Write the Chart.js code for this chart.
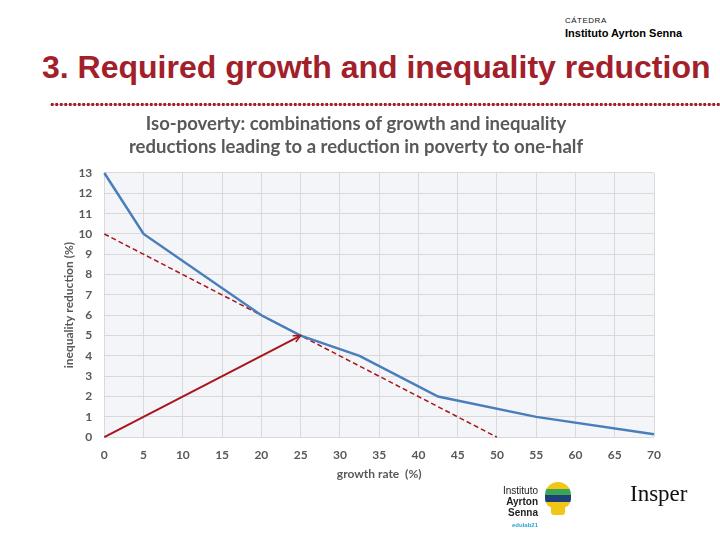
<!DOCTYPE html>
<html>
<head>
<meta charset="utf-8">
<script src="https://cdn.jsdelivr.net/npm/chart.js@4"></script>
<style>
  body { margin: 0; width: 720px; height: 540px; background: #fff; position: relative; overflow: hidden; font-family: "Liberation Sans", Arial, sans-serif; }
  .catedra { position: absolute; left: 565px; top: 16px; font-size: 8px; letter-spacing: 0.5px; color: #111; }
  .ias { position: absolute; left: 565px; top: 27px; font-size: 11px; font-weight: bold; color: #000; }
  .headline { position: absolute; left: 42px; top: 49px; font-size: 32px; font-weight: bold; color: #a2202a; white-space: nowrap; }
  .dots { position: absolute; left: 50px; top: 102px; width: 672px; height: 5px;
          background-image: radial-gradient(circle, #a2202a 1.5px, transparent 2px); background-size: 4.5px 5px; }
  #wrap { position: absolute; left: 40px; top: 106px; width: 640px; height: 382px; }
  .logo1 { position: absolute; left: 503px; top: 485px; font-size: 10px; line-height: 11px; text-align: right; color: #222; }
  .logo1 b { font-weight: bold; }
  .logo1 .edu { color: #2aa3d8; font-size: 6px; font-weight: bold; }
  .bulb { position: absolute; left: 545px; top: 482px; width: 26px; height: 26px; border-radius: 13px 13px 9px 9px; overflow: hidden; }
  .bulb div { height: 6.5px; }
  .base { position: absolute; left: 551px; top: 506px; width: 14px; height: 9px; background: #f2c617; border-radius: 0 0 3px 3px; }
  .insper { position: absolute; left: 630px; top: 481px; font-family: "Liberation Serif", serif; font-size: 23px; color: #111; }
</style>
</head>
<body>
<div class="catedra">CÁTEDRA</div>
<div class="ias">Instituto Ayrton Senna</div>
<div class="headline">3. Required growth and inequality reduction</div>
<div class="dots"></div>
<div id="wrap"><canvas id="isoChart"></canvas></div>
<div class="logo1">Instituto<br><b>Ayrton</b><br><b>Senna</b><br><span class="edu">edulab21</span></div>
<div class="bulb"><div style="background:#f2c617"></div><div style="background:#3aa655"></div><div style="background:#1f3f78"></div><div style="background:#f2c617"></div></div>
<div class="base"></div>
<div class="insper">Insper</div>
<script>
// Iso-poverty curve
const growthRate = [0, 5, 20, 25, 32.5, 42.5, 55, 70];
const isoPoverty = [13, 10, 6, 5, 4, 2, 1, 0.15];

// Tangent line at 25% growth (dashed)
const tangentX = [0, 50];
const tangentY = [10, 0];

// Arrow from origin to the tangency point
const arrowX = [0, 25];
const arrowY = [0, 5];

const toPoints = (xs, ys) => xs.map((x, i) => ({ x: x, y: ys[i] }));

const titleLines = [
  'Iso-poverty: combinations of growth and inequality',
  'reductions leading to a reduction in poverty to one-half'
];

// shade the plot area like the Excel chart
const plotBackground = {
  id: 'plotBackground',
  beforeDraw(chart) {
    const { ctx, chartArea: a } = chart;
    ctx.save();
    ctx.fillStyle = '#f3f5f9';
    ctx.fillRect(a.left, a.top, a.width, a.height);
    ctx.restore();
  }
};

// open arrow head at the last point of the arrow dataset
const arrowHead = {
  id: 'arrowHead',
  afterDatasetsDraw(chart) {
    const pts = chart.getDatasetMeta(2).data;
    const p0 = pts[pts.length - 2], p1 = pts[pts.length - 1];
    const ang = Math.atan2(p1.y - p0.y, p1.x - p0.x);
    const ctx = chart.ctx;
    ctx.save();
    ctx.strokeStyle = '#a8161c';
    ctx.lineWidth = 1.5;
    ctx.beginPath();
    ctx.moveTo(p1.x - 8 * Math.cos(ang - 0.45), p1.y - 8 * Math.sin(ang - 0.45));
    ctx.lineTo(p1.x, p1.y);
    ctx.lineTo(p1.x - 8 * Math.cos(ang + 0.45), p1.y - 8 * Math.sin(ang + 0.45));
    ctx.stroke();
    ctx.restore();
  }
};

const tickFont = { family: 'Lato', size: 12, weight: 'bold' };

new Chart(document.getElementById('isoChart'), {
  type: 'line',
  data: {
    datasets: [{
      data: toPoints(growthRate, isoPoverty),
      borderColor: '#4a7ebb',
      borderWidth: 2.5,
      pointRadius: 0
    }, {
      data: toPoints(tangentX, tangentY),
      borderColor: '#a8161c',
      borderWidth: 1.5,
      borderDash: [5, 3],
      pointRadius: 0
    }, {
      data: toPoints(arrowX, arrowY),
      borderColor: '#a8161c',
      borderWidth: 2,
      pointRadius: 0
    }]
  },
  options: {
    responsive: true,
    maintainAspectRatio: false,
    animation: false,
    clip: false,
    layout: { padding: { left: 18, right: 26, top: 0, bottom: 3 } },
    plugins: {
      legend: { display: false },
      tooltip: { enabled: false },
      title: {
        display: true,
        text: titleLines,
        color: '#595959',
        font: { family: 'Lato', size: 18.5, weight: 'bold', lineHeight: 1.27 },
        padding: { top: 6, bottom: 14 }
      }
    },
    scales: {
      x: {
        type: 'linear',
        min: 0,
        max: 70,
        ticks: { stepSize: 5, color: '#595959', font: tickFont, padding: 11 },
        grid: { color: '#d9d9d9', drawTicks: false },
        border: { display: false },
        title: { display: true, text: 'growth rate  (%)', color: '#595959', font: tickFont, padding: { top: -7, bottom: 4 } }
      },
      y: {
        min: 0,
        max: 13,
        ticks: { stepSize: 1, color: '#595959', font: tickFont, padding: 12 },
        grid: { color: '#d9d9d9', drawTicks: false },
        border: { display: false },
        title: { display: true, text: 'inequality reduction (%)', color: '#595959', font: tickFont, padding: { top: 4, bottom: -10 } }
      }
    }
  },
  plugins: [plotBackground, arrowHead]
});
</script>
</body>
</html>
